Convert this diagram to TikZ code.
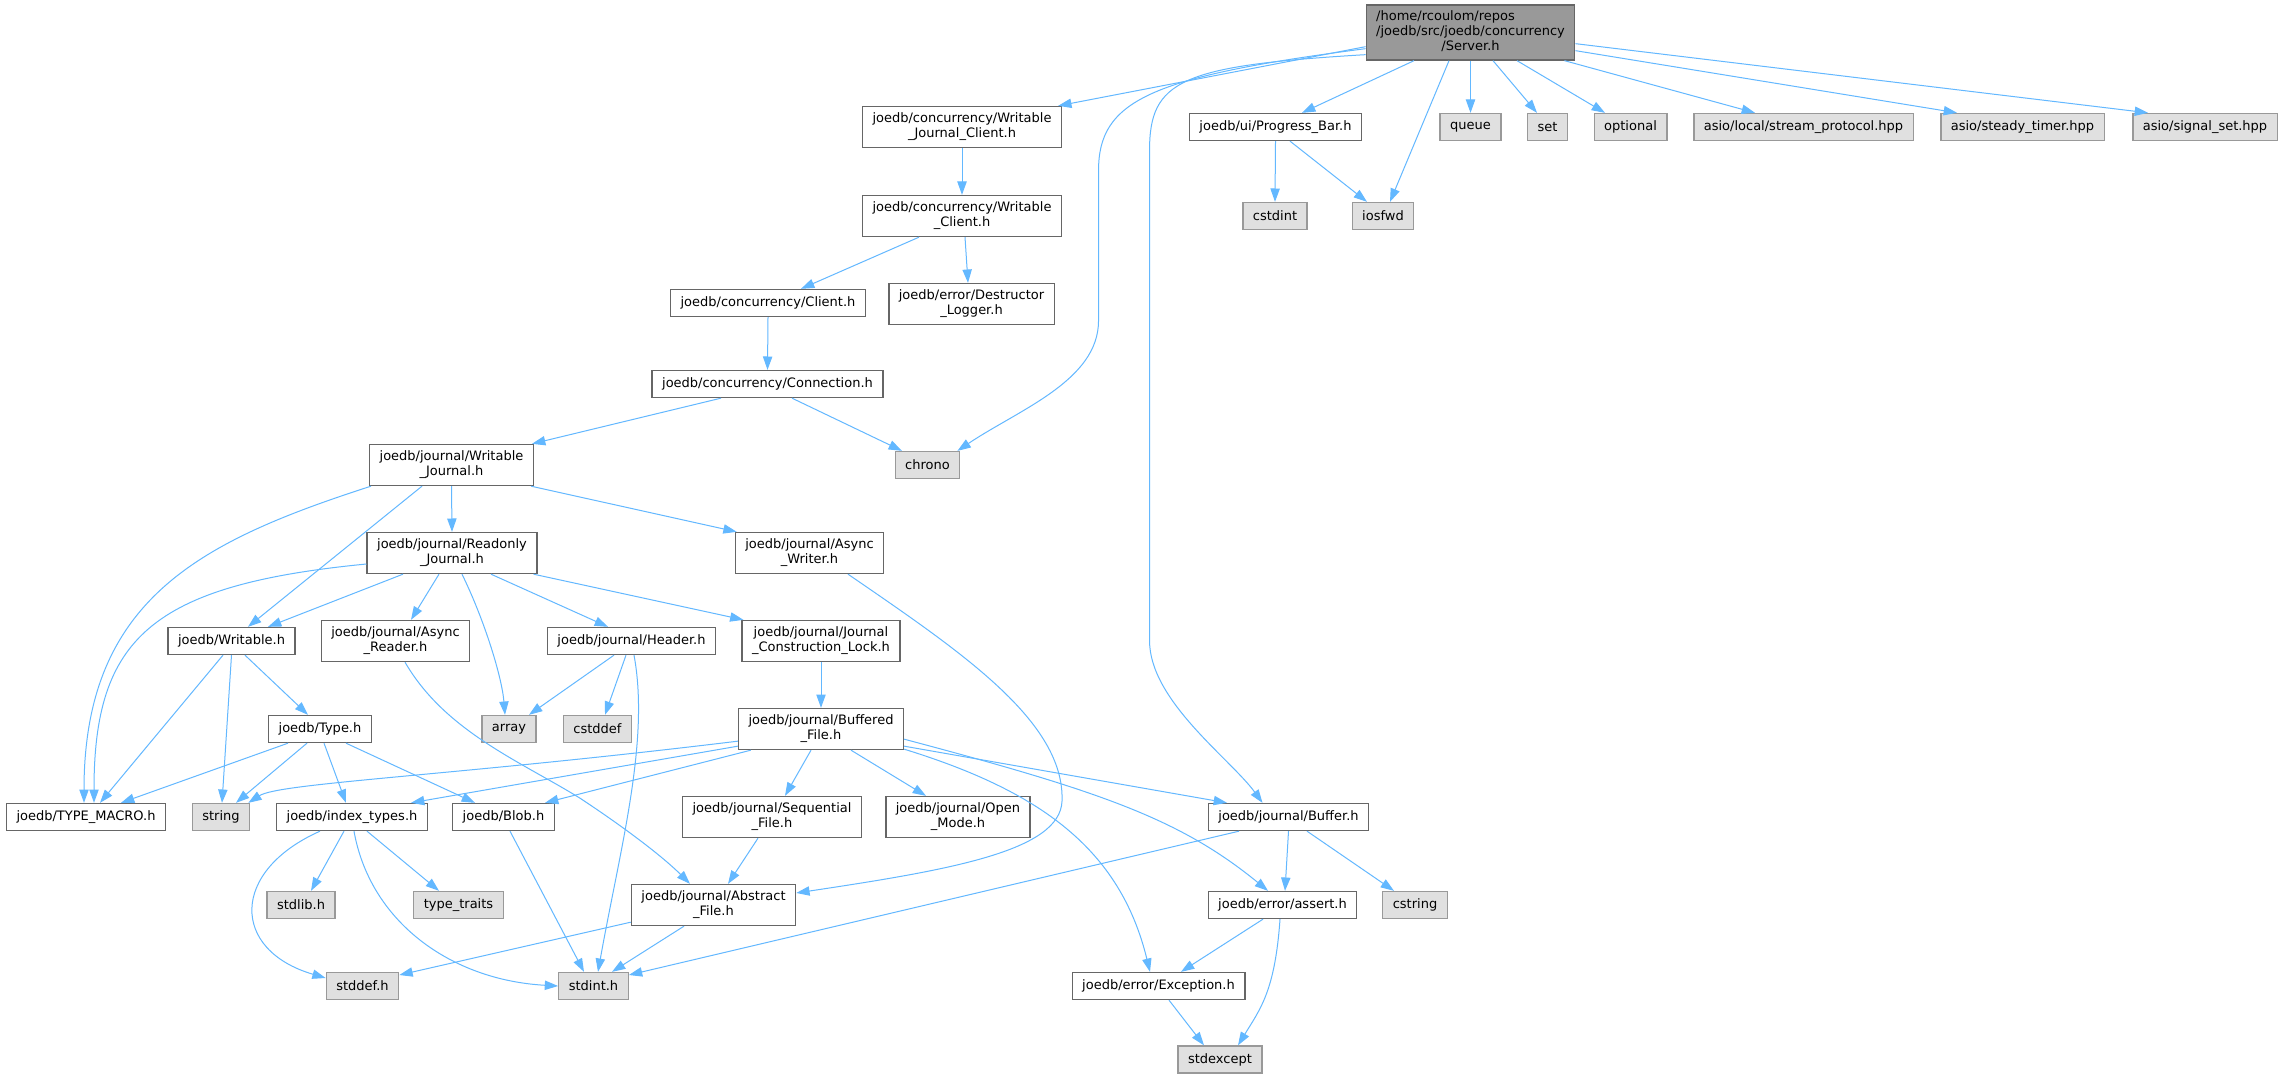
\documentclass[tikz,border=0pt]{standalone}
\usepackage{fontspec}
\setmainfont{DejaVu Sans}
\usetikzlibrary{calc,arrows.meta}
\definecolor{edgeblue}{HTML}{63B8FF}
\definecolor{nodeline}{HTML}{666666}
\definecolor{sysline}{HTML}{999999}
\definecolor{sysfill}{HTML}{E0E0E0}
\definecolor{mainfill}{HTML}{999999}
\tikzset{
	file/.style={rectangle, draw=nodeline, fill=white, line width=1pt, inner xsep=7.5pt, inner ysep=2pt, minimum height=20.25pt, align=center, font=\fontsize{9.75}{11.25}\selectfont},
	twoline/.style={minimum height=30.75pt},
	sysfile/.style={file, draw=sysline, fill=sysfill},
	mainfile/.style={file, fill=mainfill, minimum height=41.25pt},
	dep/.style={draw=edgeblue, line width=0.75pt, -{Triangle[length=10pt,width=7pt]}}
}

\begin{document}
\begin{tikzpicture}[x=0.75pt, y=-0.75pt]
			%%%%% START %%%%%
			
			\path[fill=white] (0,0) rectangle (2283,1077);
			\useasboundingbox (0,0) rectangle (2283,1077);
			
			\node[mainfile] (srv) at (1470.5, 32.5) {\begin{tabular}{@{}l@{}}/home/rcoulom/repos\\/joedb/src/joedb/concurrency\\\multicolumn{1}{@{}c@{}}{/Server.h}\end{tabular}};
			
			\node[file, twoline] (wjc) at (962, 127) {joedb/concurrency/Writable\\\_Journal\_Client.h};
			\node[file] (pbar) at (1275.5, 127) {joedb/ui/Progress\_Bar.h};
			\node[sysfile] (queue) at (1470.5, 127) {queue};
			\node[sysfile] (set) at (1547.5, 127) {set};
			\node[sysfile] (opt) at (1630.5, 127) {optional};
			\node[sysfile] (stream) at (1803.5, 127) {asio/local/stream\_protocol.hpp};
			\node[sysfile] (timer) at (2022.5, 127) {asio/steady\_timer.hpp};
			\node[sysfile] (signal) at (2205, 127) {asio/signal\_set.hpp};
			
			\node[file, twoline] (wcl) at (962, 216) {joedb/concurrency/Writable\\\_Client.h};
			\node[sysfile] (cstdint) at (1275, 216) {cstdint};
			\node[sysfile] (iosfwd) at (1383, 216) {iosfwd};
			
			\node[file] (client) at (768, 303) {joedb/concurrency/Client.h};
			\node[file, twoline] (dlog) at (971.5, 304) {joedb/error/Destructor\\\_Logger.h};
			\node[file] (conn) at (767.5, 384) {joedb/concurrency/Connection.h};
			
			\node[file, twoline] (wjour) at (451.5, 465) {joedb/journal/Writable\\\_Journal.h};
			\node[sysfile] (chrono) at (927.5, 465) {chrono};
			\node[file, twoline] (rjour) at (452, 553) {joedb/journal/Readonly\\\_Journal.h};
			\node[file, twoline] (awrit) at (809.5, 553) {joedb/journal/Async\\\_Writer.h};
			
			\node[file] (wrt) at (231.5, 641) {joedb/Writable.h};
			\node[file, twoline] (aread) at (395.5, 641) {joedb/journal/Async\\\_Reader.h};
			\node[file] (header) at (631.5, 641) {joedb/journal/Header.h};
			\node[file, twoline] (jcl) at (821, 641) {joedb/journal/Journal\\\_Construction\_Lock.h};
			
			\node[file] (type) at (320, 729) {joedb/Type.h};
			\node[sysfile] (array) at (509, 729) {array};
			\node[sysfile] (cstddef) at (597.5, 729) {cstddef};
			\node[file, twoline] (bfile) at (821, 729) {joedb/journal/Buffered\\\_File.h};
			
			\node[file] (tmacro) at (86, 817) {joedb/TYPE\_MACRO.h};
			\node[sysfile] (string) at (221, 817) {string};
			\node[file] (itypes) at (352, 817) {joedb/index\_types.h};
			\node[file] (blob) at (503.5, 817) {joedb/Blob.h};
			\node[file, twoline] (sfile) at (772, 817) {joedb/journal/Sequential\\\_File.h};
			\node[file, twoline] (omode) at (958, 817) {joedb/journal/Open\\\_Mode.h};
			\node[file] (buffer) at (1288.5, 817) {joedb/journal/Buffer.h};
			
			\node[sysfile] (stdlib) at (301, 905) {stdlib.h};
			\node[sysfile] (ttraits) at (458.5, 905) {type\_traits};
			\node[file, twoline] (afile) at (713.5, 905) {joedb/journal/Abstract\\\_File.h};
			\node[file] (assert) at (1282.5, 905) {joedb/error/assert.h};
			\node[sysfile] (cstring) at (1415, 905) {cstring};
			
			\node[sysfile] (stddef) at (362.5, 986) {stddef.h};
			\node[sysfile] (stdint) at (593.5, 986) {stdint.h};
			\node[file] (except) at (1158.5, 986) {joedb/error/Exception.h};
			\node[sysfile] (stdexc) at (1220, 1059.5) {stdexcept};
			
			% Server.h
			\draw[dep] ($(srv.south west)+(0,-14)$) -- ($(wjc.north east)+(-4,0)$);
			\draw[dep] ($(srv.south west)+(0,-12)$) .. controls +(-216,28) and +(0,-70) .. ++(-267,122) -- ++(0,150) .. controls +(0,60) and +(61,-41) .. ($(chrono.north east)+(-3,0)$);
			\draw[dep] ($(srv.south west)+(0,-6)$) .. controls +(-186,11) and +(0,-70) .. ++(-216,96) -- ++(0,490) .. controls +(0,60) and +(-32,-44) .. ($(buffer.north)+(-26,0)$);
			\draw[dep] ($(srv.south)+(-56.5,0)$) -- ($(pbar.north)+(26.5,0)$);
			\draw[dep] ($(srv.south)+(-21.5,0)$) -- ($(iosfwd.north)+(7,0)$);
			\draw[dep] (srv.south) -- (queue.north);
			\draw[dep] ($(srv.south)+(22.5,0)$) -- ($(set.north)+(-10.5,0)$);
			\draw[dep] ($(srv.south)+(46.5,0)$) -- ($(opt.north)+(-25.5,0)$);
			\draw[dep] ($(srv.south east)+(-11,0)$) -- ($(stream.north)+(-48.5,0)$);
			\draw[dep] ($(srv.south east)+(0,-10)$) -- ($(timer.north)+(-65.5,0)$);
			\draw[dep] ($(srv.south east)+(0,-17)$) -- ($(signal.north)+(-57,0)$);
			
			% clients
			\draw[dep] (wjc.south) -- (wcl.north);
			\draw[dep] ($(wcl.south)+(-43,0)$) -- ($(client.north)+(33,0)$);
			\draw[dep] ($(wcl.south)+(3,0)$) -- ($(dlog.north)+(-3.5,0)$);
			\draw[dep] (pbar.south) -- (cstdint.north);
			\draw[dep] ($(pbar.south)+(14.5,0)$) -- ($(iosfwd.north)+(-16,0)$);
			\draw[dep] (client.south) -- (conn.north);
			\draw[dep] ($(conn.south)+(-46.5,0)$) -- ($(wjour.north east)+(-2,0)$);
			\draw[dep] ($(conn.south)+(24.5,0)$) -- ($(chrono.north)+(-25.5,0)$);
			
			% journals
			\draw[dep] ($(wjour.south west)+(2,0)$) .. controls +(-170,55) and +(0,-204) .. ($(tmacro.north)+(-2,0)$);
			\draw[dep] ($(wjour.south)+(-29.5,0)$) -- ($(wrt.north)+(16.5,0)$);
			\draw[dep] (wjour.south) -- (rjour.north);
			\draw[dep] ($(wjour.south east)+(-3,0)$) -- ($(awrit.north west)+(2,0)$);
			\draw[dep] ($(rjour.west)+(0,11)$) .. controls +(-216,21) and +(0,-164) .. ($(tmacro.north)+(8,0)$);
			\draw[dep] ($(rjour.south)+(-49,0)$) -- ($(wrt.north)+(36.5,0)$);
			\draw[dep] ($(rjour.south)+(-13,0)$) -- ($(aread.north)+(15.5,0)$);
			\draw[dep] ($(rjour.south)+(10,0)$) .. controls +(23,47) and +(-3,-37) .. ($(array.north)+(-4,0)$);
			\draw[dep] ($(rjour.south)+(39,0)$) -- ($(header.north)+(-23.5,0)$);
			\draw[dep] ($(rjour.south east)+(-4,0)$) -- ($(jcl.north west)+(2,0)$);
			\draw[dep] ($(awrit.south)+(38.5,0)$) .. controls +(112,77) and +(3,-80) .. ++(214,227) .. controls +(-2,50) and +(153,-23) .. ($(afile.east)+(0,-12)$);
			\draw[dep] ($(aread.south)+(9.5,0)$) .. controls +(40,69) and +(-60,-37) .. ++(175,136) .. controls +(50,33) and +(-25,-25) .. ($(afile.north)+(-23.5,0)$);
			
			% Writable.h, Header.h
			\draw[dep] ($(wrt.south)+(-8.5,0)$) -- ($(tmacro.north)+(14,0)$);
			\draw[dep] (wrt.south) -- ($(string.north)+(1,0)$);
			\draw[dep] ($(wrt.south)+(13.5,0)$) -- ($(type.north)+(-12,0)$);
			\draw[dep] ($(header.south)+(-17.5,0)$) -- ($(array.north)+(20,0)$);
			\draw[dep] ($(header.south)+(-5.5,0)$) -- ($(cstddef.north)+(7.5,0)$);
			\draw[dep] ($(header.south)+(2.5,0)$) .. controls +(16,86) and +(22,-123) .. ($(stdint.north)+(4.5,0)$);
			\draw[dep] (jcl.south) -- (bfile.north);
			
			% Type.h
			\draw[dep] ($(type.south)+(-32,0)$) -- ($(tmacro.north)+(35,0)$);
			\draw[dep] ($(type.south)+(-13,0)$) -- ($(string.north)+(15,0)$);
			\draw[dep] ($(type.south)+(4,0)$) -- ($(itypes.north)+(-6,0)$);
			\draw[dep] ($(type.south)+(26,0)$) -- ($(blob.north)+(-28.5,0)$);
			
			% Buffered_File.h
			\draw[dep] ($(bfile.south west)+(0,-9)$) .. controls +(-288,35) and +(31,-20) .. ($(string.north east)+(-2,0)$);
			\draw[dep] ($(bfile.south west)+(0,-4)$) -- ($(itypes.north)+(59,0)$);
			\draw[dep] ($(bfile.south west)+(13,0)$) -- ($(blob.north)+(41.5,0)$);
			\draw[dep] ($(bfile.south)+(-10,0)$) -- ($(sfile.north)+(13,0)$);
			\draw[dep] ($(bfile.south)+(30,0)$) -- ($(omode.north)+(-32,0)$);
			\draw[dep] ($(bfile.south east)+(0,-4)$) -- ($(buffer.north)+(-61.5,0)$);
			\draw[dep] ($(bfile.south east)+(0,-11)$) .. controls +(196,52) and +(-88,-72) .. ($(assert.north)+(-14.5,0)$);
			\draw[dep] ($(bfile.south east)+(0,-1)$) .. controls +(136,42) and +(-30,-123) .. ($(except.north)+(-8.5,0)$);
			
			% bottom rows
			\draw[dep] ($(itypes.south)+(-8,0)$) -- ($(stdlib.north)+(10,0)$);
			\draw[dep] ($(itypes.south)+(15,0)$) -- ($(ttraits.north)+(-19.5,0)$);
			\draw[dep] ($(itypes.south)+(-32,0)$) .. controls +(-90,40) and +(-95,-28) .. ($(stddef.west)+(0,-8)$);
			\draw[dep] ($(itypes.south)+(2,0)$) .. controls +(16,90) and +(-108,-6) .. (stdint.west);
			\draw[dep] ($(blob.south)+(6.5,0)$) -- ($(stdint.north)+(-9.5,0)$);
			\draw[dep] ($(sfile.south)+(-14,0)$) -- ($(afile.north)+(14.5,0)$);
			\draw[dep] ($(afile.south west)+(0,-4)$) -- ($(stddef.east)+(0,-11)$);
			\draw[dep] ($(afile.south)+(-29.5,0)$) -- ($(stdint.north)+(18.5,0)$);
			\draw[dep] ($(buffer.south)+(-49.5,0)$) -- ($(stdint.east)+(0,-11)$);
			\draw[dep] (buffer.south) -- ($(assert.north)+(2.5,0)$);
			\draw[dep] ($(buffer.south)+(18.5,0)$) -- ($(cstring.north)+(-21,0)$);
			\draw[dep] ($(assert.south)+(-19.5,0)$) -- ($(except.north)+(22.5,0)$);
			\draw[dep] ($(assert.south)+(-2.5,0)$) .. controls +(-5,72) and +(22,-36) .. ($(stdexc.north)+(18,0)$);
			\draw[dep] ($(except.south)+(10.5,0)$) -- ($(stdexc.north)+(-16,0)$);
			
			%%%%% END %%%%%
\end{tikzpicture}
\end{document}
